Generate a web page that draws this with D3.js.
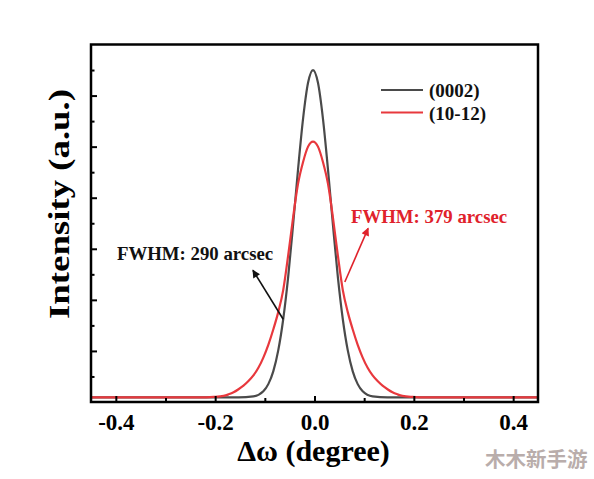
<!DOCTYPE html>
<html><head><meta charset="utf-8">
<script src="https://cdn.jsdelivr.net/npm/d3@7"></script>
<style>body{margin:0;background:#fff}svg{display:block}</style></head>
<body><svg id="c" width="594" height="479"></svg>
<script>
// ---- data ----
const seriesNames = ["(0002)", "(10-12)"];
const greyX = [-0.45, -0.153, -0.123, -0.103, -0.093, -0.083, -0.073, -0.063, -0.053, -0.043, -0.033, -0.023, -0.013, -0.003,
               0.007, 0.017, 0.027, 0.037, 0.047, 0.057, 0.067, 0.077, 0.087, 0.097, 0.117, 0.147, 0.45];
const greyY = [0.09, 0.09, 0.11, 0.21, 0.35, 0.60, 1.01, 1.62, 2.45, 3.48, 4.57, 5.55, 6.25, 6.50,
               6.25, 5.55, 4.57, 3.48, 2.45, 1.62, 1.01, 0.60, 0.35, 0.21, 0.11, 0.09, 0.09];
const redX = [-0.45, -0.233, -0.203, -0.183, -0.173, -0.163, -0.153, -0.143, -0.133, -0.123, -0.113, -0.103, -0.093, -0.083, -0.073, -0.063, -0.053, -0.043, -0.033, -0.023, -0.013, -0.003,
              0.007, 0.017, 0.027, 0.037, 0.047, 0.057, 0.067, 0.077, 0.087, 0.097, 0.107, 0.117, 0.127, 0.137, 0.147, 0.157, 0.167, 0.177, 0.197, 0.227, 0.45];
const redY = [0.09, 0.09, 0.10, 0.12, 0.15, 0.19, 0.25, 0.32, 0.41, 0.52, 0.67, 0.87, 1.12, 1.42, 1.76, 2.19, 2.87, 3.62, 4.28, 4.70, 5.00, 5.10,
              5.00, 4.70, 4.28, 3.62, 2.87, 2.19, 1.76, 1.42, 1.12, 0.87, 0.67, 0.52, 0.41, 0.32, 0.25, 0.19, 0.15, 0.12, 0.10, 0.09, 0.09];
const xTickMajor = [-0.4, -0.2, 0.0, 0.2, 0.4];
const xTickLabels = ["-0.4", "-0.2", "0.0", "0.2", "0.4"];
const xTickMinor = [-0.3, -0.1, 0.1, 0.3];
const yTickMajor = [1, 2, 3, 4, 5, 6];
const yTickMinor = [0.5, 1.5, 2.5, 3.5, 4.5, 5.5, 6.5];
const xTitle = "Δω (degree)";
const yTitle = "Intensity (a.u.)";
const annoTexts = ["FWHM: 290 arcsec", "FWHM: 379 arcsec"];
const watermark = "木木新手游";

// ---- drawing ----
const L = 91, R = 538, T = 44.5, B = 402;
const colors = ["#4a4a4a", "#e8383d"];
const serif = "'Liberation Serif','Times New Roman',serif";
const svg = d3.select("#c");
const x = d3.scaleLinear().domain([-0.45, 0.45]).range([L, R]);
const y = d3.scaleLinear().domain([0, 7]).range([B, T]);

const defs = svg.append("defs");
function marker(id, col) {
  defs.append("marker").attr("id", id).attr("viewBox", "0 0 10 10").attr("refX", 9).attr("refY", 5)
    .attr("markerWidth", 10).attr("markerHeight", 8).attr("markerUnits", "userSpaceOnUse").attr("orient", "auto")
    .append("path").attr("d", "M0,0L10,5L0,10Z").attr("fill", col);
}
marker("ah0", "#111");
marker("ah1", "#e0222b");

const clip = defs.append("clipPath").attr("id", "pc");
clip.append("rect").attr("x", L).attr("y", T).attr("width", R - L).attr("height", B - T);

const line = d3.line().x(d => x(d[0])).y(d => y(d[1])).curve(d3.curveMonotoneX);
const g = svg.append("g").attr("clip-path", "url(#pc)");
g.append("path").datum(greyX.map((v, i) => [v, greyY[i]])).attr("d", line)
  .attr("fill", "none").attr("stroke", colors[0]).attr("stroke-width", 2.2);
g.append("path").datum(redX.map((v, i) => [v, redY[i]])).attr("d", line)
  .attr("fill", "none").attr("stroke", colors[1]).attr("stroke-width", 2.2);

// axes
const xa = svg.append("g").attr("transform", `translate(0,${B})`)
  .call(d3.axisBottom(x).tickValues(xTickMajor).tickFormat((d, i) => xTickLabels[i]).tickSizeInner(-6).tickSizeOuter(0).tickPadding(11.5));
xa.select(".domain").remove();
xa.selectAll("line").attr("stroke", "#000").attr("stroke-width", 2);
xa.selectAll("text").attr("font-family", serif).attr("font-weight", "bold").attr("font-size", 23).attr("fill", "#000");
const xm = svg.append("g").attr("transform", `translate(0,${B})`)
  .call(d3.axisBottom(x).tickValues(xTickMinor).tickFormat("").tickSizeInner(-4).tickSizeOuter(0));
xm.select(".domain").remove();
xm.selectAll("line").attr("stroke", "#000").attr("stroke-width", 2);

const ya = svg.append("g").attr("transform", `translate(${L},0)`)
  .call(d3.axisLeft(y).tickValues(yTickMajor).tickFormat("").tickSizeInner(-6).tickSizeOuter(0));
ya.select(".domain").remove();
ya.selectAll("line").attr("stroke", "#000").attr("stroke-width", 2);
const ym = svg.append("g").attr("transform", `translate(${L},0)`)
  .call(d3.axisLeft(y).tickValues(yTickMinor).tickFormat("").tickSizeInner(-3.5).tickSizeOuter(0));
ym.select(".domain").remove();
ym.selectAll("line").attr("stroke", "#000").attr("stroke-width", 2);

svg.append("rect").attr("x", L).attr("y", T).attr("width", R - L).attr("height", B - T)
  .attr("fill", "none").attr("stroke", "#000").attr("stroke-width", 2.5);

// titles
svg.append("text").attr("x", (L + R) / 2 - 1).attr("y", 461).attr("text-anchor", "middle")
  .attr("font-family", serif).attr("font-weight", "bold").attr("font-size", 30).text(xTitle);
svg.append("text").attr("transform", `translate(69,204) rotate(-90)`).attr("text-anchor", "middle")
  .attr("font-family", serif).attr("font-weight", "bold").attr("font-size", 30)
  .attr("textLength", 230).attr("lengthAdjust", "spacingAndGlyphs").text(yTitle);

// legend
seriesNames.forEach((n, i) => {
  const ly = 90 + i * 22.5;
  svg.append("line").attr("x1", 381).attr("x2", 423).attr("y1", ly).attr("y2", ly)
    .attr("stroke", colors[i]).attr("stroke-width", 2.2);
  svg.append("text").attr("x", 429).attr("y", ly + 7).attr("font-family", serif).attr("font-weight", "bold")
    .attr("font-size", 19).attr("fill", "#111").text(n);
});

// annotations
svg.append("text").attr("x", 117).attr("y", 260).attr("font-family", serif).attr("font-weight", "bold")
  .attr("font-size", 18.8).attr("fill", "#111").text(annoTexts[0]);
svg.append("line").attr("x1", x(-0.063)).attr("y1", y(1.62)).attr("x2", x(-0.124)).attr("y2", y(2.58))
  .attr("stroke", "#111").attr("stroke-width", 1.6).attr("marker-end", "url(#ah0)");
svg.append("text").attr("x", 351).attr("y", 223).attr("font-family", serif).attr("font-weight", "bold")
  .attr("font-size", 18.8).attr("fill", "#e0222b").text(annoTexts[1]);
svg.append("line").attr("x1", x(0.061)).attr("y1", y(2.35)).attr("x2", x(0.108)).attr("y2", y(3.40))
  .attr("stroke", "#e0222b").attr("stroke-width", 1.6).attr("marker-end", "url(#ah1)");

// watermark
svg.append("text").attr("x", 485).attr("y", 467).attr("font-family", "'Noto Sans CJK SC',sans-serif").attr("font-weight", "bold")
  .attr("font-size", 20.5).attr("fill", "#b9adab").text(watermark);
</script></body></html>
